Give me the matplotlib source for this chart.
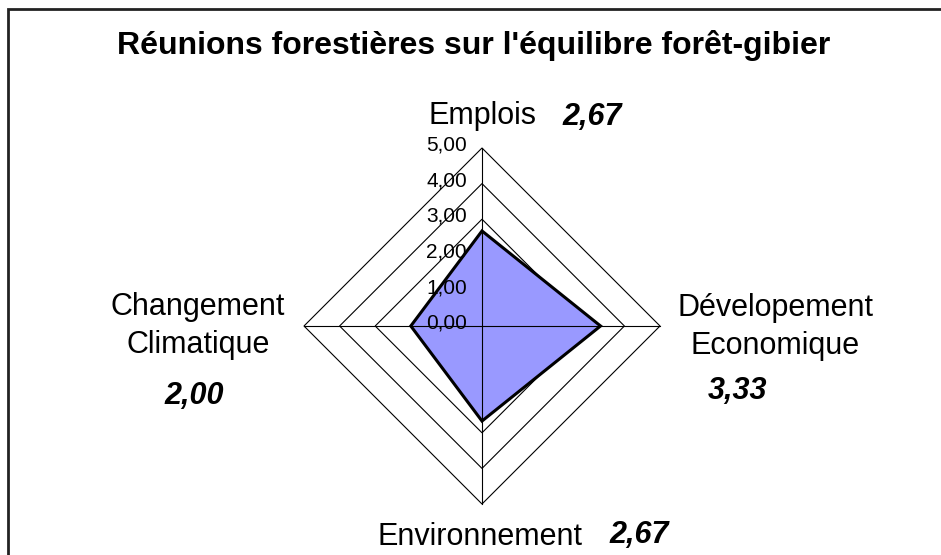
import numpy as np
import matplotlib
matplotlib.use('Agg')
import matplotlib.pyplot as plt
from matplotlib.patches import Polygon, Rectangle

plt.rcParams['font.family'] = ['Liberation Sans', 'DejaVu Sans']

# data
categories = ['Emplois', 'Dévelopement\nEconomique', 'Environnement', 'Changement\nClimatique']
values = [2.67, 3.33, 2.67, 2.00]
levels = [0, 1, 2, 3, 4, 5]
title = "Réunions forestières sur l'équilibre forêt-gibier"

W, H = 941, 555
cx, cy = 482, 326      # centre of the radar in pixels
unit = 35.6            # pixels per unit of value

fig = plt.figure(figsize=(W / 100, H / 100), dpi=100)
ax = fig.add_axes([0, 0, 1, 1])
ax.set_xlim(-cx / unit, (W - cx) / unit)
ax.set_ylim(-(H - cy) / unit, cy / unit)
ax.axis('off')

def px(x, y):
    # pixel position (from top-left) -> data coords
    return (x - cx) / unit, (cy - y) / unit

# clockwise from the top
angles = np.pi / 2 - np.arange(len(categories)) * 2 * np.pi / len(categories)
dx, dy = np.cos(angles), np.sin(angles)

# grid diamonds
for lv in levels[1:]:
    ax.add_patch(Polygon(np.c_[lv * dx, lv * dy], closed=True, fill=False,
                         edgecolor='black', lw=0.8, zorder=1))

# data polygon
v = np.array(values)
ax.add_patch(Polygon(np.c_[v * dx, v * dy], closed=True, facecolor='#9999FF',
                     edgecolor='black', lw=2.2, joinstyle='miter', zorder=2))

# spokes
for a, b in zip(dx, dy):
    ax.plot([0, levels[-1] * a], [0, levels[-1] * b], color='black', lw=0.8, zorder=3)

# tick labels along the top axis
for lv in levels:
    ax.text(-15 / unit, lv + 0.08, f'{lv:.2f}'.replace('.', ','), ha='right',
            va='center', fontsize=15, zorder=4)

# category labels and values
lab_pos = [(482, 116), (775, 327), (480, 537), (198, 326)]
val_pos = [(592, 117), (738, 391), (639, 535), (194, 396)]
for name, val, lp, vp in zip(categories, values, lab_pos, val_pos):
    ax.text(*px(*lp), name, ha='center', va='center', fontsize=22, linespacing=1.32)
    ax.text(*px(*vp), f'{val:.2f}'.replace('.', ','), ha='center', va='center',
            fontsize=22, fontweight='bold', fontstyle='italic')

ax.text(*px(474, 46), title, ha='center', va='center', fontsize=23, fontweight='bold')

# chart frame
fig.add_artist(Rectangle((8 / W, -0.1), 1.1, (H - 9) / H + 0.1, transform=fig.transFigure,
                         fill=False, edgecolor='#222222', lw=2))

fig.savefig('out.png', dpi=100)
